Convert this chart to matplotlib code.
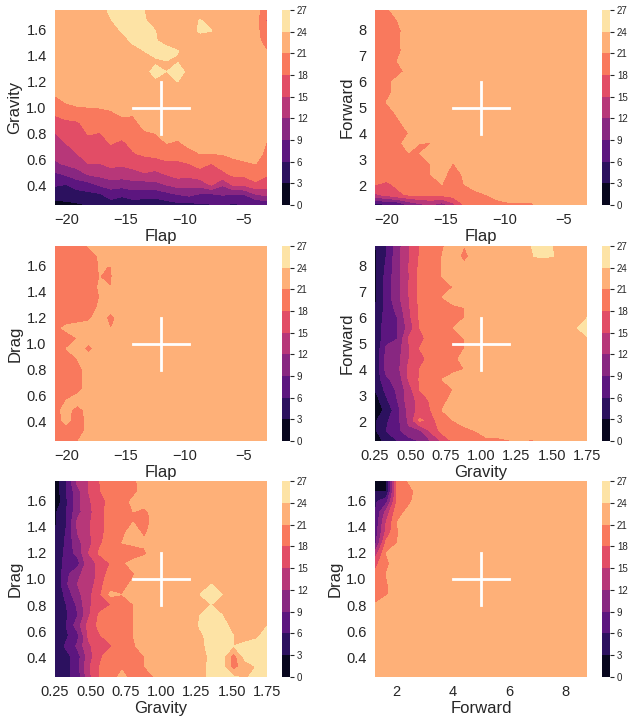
import numpy as np
from matplotlib import pyplot as plt

plt.rcParams["font.family"] = ["Liberation Sans", "DejaVu Sans"]
plt.rcParams["text.color"] = "#262626"
plt.rcParams["axes.labelcolor"] = "#262626"
plt.rcParams["xtick.color"] = "#262626"
plt.rcParams["ytick.color"] = "#262626"

N = 20
BG = 22.5


def row(*vals):
    # most of every row sits on the plateau, only the left part is written out
    return list(vals) + [BG] * (N - len(vals))


flap = np.linspace(-21, -3, N)
gravity = np.linspace(0.25, 1.75, N)
forward = np.linspace(1.25, 8.75, N)
drag = np.linspace(0.25, 1.75, N)

levels = list(range(0, 30, 3))

# rows run from the lowest y value to the highest
flap_gravity = [
    [2.0, 2.3, 2.6, 3.1, 3.5, 4.5, 4.0, 4.3, 4.3, 4.2, 4.5, 5.0, 5.0, 5.5, 5.8, 6.1, 5.5, 6.1, 6.1, 6.2],
    [4.2, 4.2, 4.6, 5.1, 5.5, 7.3, 6.5, 7.4, 7.1, 6.9, 7.9, 8.9, 9.6, 8.5, 8.3, 9.2, 8.5, 8.9, 11.8, 12.5],
    [6.4, 6.0, 7.5, 7.9, 9.5, 10.4, 10.2, 10.7, 10.6, 11.1, 12.2, 13.4, 13.0, 13.3, 15.4, 12.4, 15.6, 15.7, 17.4, 16.6],
    [8.4, 9.4, 10.7, 12.3, 12.9, 13.7, 13.5, 13.9, 14.7, 14.0, 15.2, 16.0, 15.9, 16.7, 16.6, 17.2, 18.6, 18.8, 19.5, 18.3],
    [11.5, 12.4, 13.1, 15.0, 14.9, 15.7, 15.4, 16.0, 16.7, 16.8, 17.4, 17.5, 17.9, 19.0, 17.8, 19.3, 20.0, 20.6, 21.0, 19.2],
    [12.9, 13.2, 15.0, 16.2, 15.9, 17.0, 16.5, 17.8, 18.4, 18.7, 19.3, 19.1, 19.9, 21.0, 21.0, 21.1, 21.8, 22.0, 22.5, 19.9],
    [13.9, 15.0, 15.5, 17.1, 16.9, 18.1, 17.5, 18.7, 19.5, 19.9, 21.0, 20.5, 21.8, 22.0, 22.5, 22.5, 22.5, 22.5, 22.5, 20.8],
    [14.9, 16.3, 16.7, 18.2, 17.9, 19.0, 18.8, 19.5, 20.7, 21.0, 22.0, 22.0, 22.5, 22.5, 22.5, 22.5, 22.5, 22.5, 22.5, 22.0],
    row(16.7, 17.4, 17.6, 19.3, 19.2, 19.8, 20.2, 20.3, 21.8),
    row(18.5, 19.3, 19.9, 20.2, 20.6, 20.7, 21.5, 21.3),
    row(20.0, 21.1, 21.7, 21.7, 21.5, 22.0),
    row(21.5, 22.0),
    row(22.5, 22.5, 22.5, 22.5, 22.5, 22.5, 22.5, 22.5, 22.5, 23.5, 23.2, 24.0),
    row(22.5, 22.5, 22.5, 22.5, 22.5, 22.5, 22.5, 22.5, 23.0, 25.0, 23.95, 25.5, 23.0),
    row(22.5, 22.5, 22.5, 22.5, 22.5, 22.5, 22.5, 22.5, 23.0, 23.5, 23.97, 23.8),
    [22.5, 22.5, 22.5, 22.5, 22.5, 22.5, 22.5, 23.0, 24.0, 25.0, 25.0, 24.1, 22.5, 22.5, 22.5, 22.5, 22.5, 22.5, 22.0, 21.0],
    [22.5, 22.5, 22.5, 22.5, 22.5, 22.5, 23.0, 24.5, 25.0, 24.2, 23.0, 22.5, 22.5, 22.5, 22.5, 22.5, 22.5, 22.5, 22.0, 19.5],
    [22.5, 22.5, 22.5, 22.5, 22.5, 23.0, 24.2, 25.0, 25.0, 24.0, 22.5, 22.5, 22.5, 24.5, 24.1, 22.5, 22.5, 22.5, 22.0, 18.5],
    [22.5, 22.5, 22.5, 22.5, 22.5, 23.9, 25.0, 25.0, 24.2, 23.0, 22.5, 22.5, 22.5, 24.2, 22.5, 22.5, 22.5, 22.5, 22.0, 17.5],
    [22.5, 22.5, 22.5, 22.5, 23.0, 24.5, 25.0, 25.0, 24.0, 22.5, 22.5, 22.5, 22.5, 22.5, 22.5, 22.5, 22.5, 22.5, 22.0, 19.0],
]

flap_forward = [
    [4.0, 5.5, 5.5, 9.0, 11.0, 12.0, 10.0, 14.0, 18.0, 19.3, 19.5, 20.0, 20.5, 20.5, 20.5, 22.0, 22.5, 22.5, 22.5, 20.9],
    row(14.5, 15.8, 17.4, 18.3, 18.4, 18.5, 18.8, 19.3, 20.0, 20.3, 21.0, 22.0),
    row(18.1, 17.4, 18.5, 19.5, 19.5, 19.5, 21.0, 19.5, 21.0, 22.0),
    row(19.5, 19.5, 19.5, 19.5, 19.5, 21.0, 22.0, 19.5, 21.5),
    row(19.5, 19.5, 19.5, 19.5, 19.5, 21.0, 22.3, 20.8),
    row(19.5, 19.5, 19.5, 20.9, 21.0),
    row(19.5, 19.5, 20.3, 22.0, 21.0, 20.9),
    row(19.5, 19.5, 19.5, 21.0, 22.5, 22.0),
    row(19.5, 19.5, 20.2),
    row(19.5, 19.5, 21.5),
    row(19.5, 21.0),
    row(19.5, 20.0, 22.0),
    row(19.5, 20.0, 22.0),
    row(19.5, 19.5, 20.0, 21.8),
    row(19.5, 19.5, 21.0),
    row(19.5, 19.5, 20.2),
    row(19.5, 19.5, 20.5),
    row(19.5, 19.5, 20.2),
    row(19.5, 19.5, 21.0),
    row(19.5, 20.5, 22.0),
]

flap_drag = [
    row(19.5, 19.5, 20.9, 22.5, 22.5, 22.5, 20.7),
    row(19.5, 19.8, 19.5, 21.8),
    row(19.5, 21.9, 19.5, 21.8),
    row(20.0, 22.0, 19.8, 22.0),
    row(19.5, 21.0, 22.3),
    row(19.5, 19.5, 20.0, 22.3),
    row(19.5, 19.5, 20.0, 22.3),
    row(19.5, 19.5, 20.0, 22.3),
    row(19.5, 19.5, 21.0),
    row(19.5, 21.0, 22.5, 20.0),
    row(19.5, 19.5, 21.0),
    row(20.0, 21.7, 22.5, 22.5, 22.5, 20.9),
    row(19.5, 19.5, 19.5, 20.3, 22.5, 20.0),
    row(19.5, 19.5, 19.5, 19.5, 21.5, 22.0),
    row(19.5, 19.5, 19.5, 19.5, 21.0),
    row(19.5, 19.5, 19.5, 19.5, 21.3, 21.0),
    row(19.5, 19.5, 19.5, 19.5, 21.0, 20.8),
    row(19.5, 19.5, 19.5, 19.5, 21.2, 20.9),
    row(19.5, 19.5, 19.5, 19.5, 21.3),
    row(19.5, 19.5, 19.5, 21.1),
]

gravity_forward = [
    row(2.0, 3.5, 6.0, 7.5, 9.0, 12.0, 15.5, 18.5, 20.0, 20.3, 20.2, 20.3, 20.8, 21.8, 20.5),
    row(2.5, 6.0, 7.8, 11.5, 11.5, 15.5, 19.0, 19.5, 20.3, 21.0),
    row(2.5, 5.5, 8.0, 12.5, 18.5, 17.0, 19.5, 21.0, 22.0),
    row(1.0, 3.8, 7.8, 13.0, 16.0, 18.0, 21.0),
    row(1.5, 5.5, 9.0, 13.5, 16.0, 18.5, 20.0, 22.0),
    row(3.0, 6.8, 9.5, 13.5, 18.0, 19.2, 20.0, 21.0),
    row(3.5, 8.5, 10.0, 15.2, 18.2, 19.5, 21.0),
    row(3.5, 9.8, 11.0, 15.5, 18.0, 19.5, 19.5, 20.0, 21.0),
    row(3.2, 9.8, 10.8, 14.9, 16.5, 19.5, 19.5, 20.2, 22.0),
    row(3.2, 9.5, 10.5, 14.5, 18.0, 19.5, 19.5, 20.0, 21.0),
    [3.5, 7.8, 8.9, 15.2, 16.8, 19.5, 19.5, 20.2, 21.0, 22.5, 22.5, 22.5, 22.5, 22.5, 22.5, 22.5, 22.5, 22.5, 22.5, 23.8],
    [3.5, 7.7, 9.0, 13.0, 18.0, 19.5, 19.5, 21.0, 22.5, 22.5, 22.5, 22.5, 22.5, 22.5, 22.5, 22.5, 22.5, 22.5, 23.8, 25.0],
    [3.0, 7.5, 9.0, 14.0, 18.3, 19.5, 19.5, 19.8, 21.0, 22.5, 22.5, 22.5, 22.5, 22.5, 22.5, 22.5, 22.5, 22.5, 22.5, 24.0],
    row(2.7, 7.0, 10.0, 14.5, 18.5, 19.5, 19.5, 20.4, 21.0),
    row(2.5, 7.2, 11.1, 14.8, 18.7, 19.5, 21.0),
    row(2.5, 7.0, 11.0, 15.0, 18.8, 19.5, 19.5, 21.0),
    row(2.5, 6.9, 11.0, 14.7, 18.8, 19.5, 21.0),
    row(2.5, 6.5, 10.9, 15.0, 18.5, 19.5, 21.0, 22.5, 21.8),
    row(2.5, 6.0, 10.9, 14.5, 18.2, 19.5, 21.0, 22.5, 20.0, 22.5, 22.5, 22.5, 22.5, 22.5, 23.9, 24.3, 24.0),
    row(2.8, 6.0, 10.7, 14.6, 18.2, 19.2, 20.6, 22.5, 21.0, 22.5, 22.5, 22.5, 22.5, 22.5, 24.0, 25.0, 23.9),
]

gravity_drag = [
    [3.0, 5.3, 7.0, 14.0, 18.0, 19.5, 22.0, 19.5, 19.8, 21.2, 22.5, 22.5, 22.5, 22.5, 25.0, 25.0, 24.5, 23.5, 25.0, 25.0],
    [3.0, 5.0, 7.8, 14.5, 18.0, 19.5, 20.5, 19.5, 20.9, 22.5, 22.5, 22.5, 22.5, 22.5, 25.0, 25.0, 19.5, 22.5, 24.0, 25.0],
    [3.0, 5.0, 7.5, 13.5, 17.5, 19.5, 19.5, 19.5, 21.0, 22.5, 22.5, 22.5, 22.5, 22.5, 24.8, 25.0, 19.5, 25.0, 25.0, 25.0],
    [3.2, 6.5, 9.5, 14.5, 16.5, 17.8, 19.0, 20.5, 22.5, 22.5, 22.5, 22.5, 22.5, 23.2, 25.0, 25.0, 24.0, 24.3, 25.0, 25.0],
    [3.3, 5.5, 8.0, 15.5, 17.8, 19.0, 18.5, 21.0, 22.5, 22.5, 22.5, 22.5, 22.5, 23.5, 25.0, 25.0, 24.0, 23.5, 23.5, 25.0],
    [3.1, 6.0, 10.5, 16.0, 18.8, 19.5, 19.5, 21.0, 22.5, 22.5, 22.5, 22.5, 22.5, 24.3, 25.0, 25.0, 23.0, 22.5, 22.5, 23.9],
    row(3.0, 5.5, 8.8, 14.5, 18.5, 19.0, 19.5, 21.0, 22.5, 22.5, 22.5, 22.5, 22.5, 24.0, 25.0, 24.0),
    row(2.8, 6.0, 9.5, 14.5, 16.5, 18.0, 19.5, 20.9, 22.5, 22.5, 22.5, 22.5, 22.5, 22.5, 24.0),
    row(2.7, 7.0, 11.0, 14.0, 17.5, 21.8, 21.0, 22.2, 22.5, 22.5, 22.5, 22.5, 22.5, 24.0, 25.0, 24.0),
    row(3.0, 8.5, 12.0, 12.5, 17.5, 19.0, 20.1, 21.5, 22.5, 22.5, 22.5, 22.5, 22.5, 22.5, 24.0),
    row(3.0, 8.0, 11.5, 13.0, 16.0, 19.5, 19.5, 20.7),
    row(3.0, 7.5, 7.5, 14.0, 15.5, 18.2, 20.5, 22.0),
    row(3.0, 7.0, 10.0, 15.0, 18.5, 19.5, 19.5, 19.5, 20.5),
    row(3.0, 6.5, 11.0, 14.0, 17.5, 19.5, 21.0, 21.5, 21.5),
    row(2.8, 6.3, 12.0, 14.5, 17.0, 19.5, 20.5, 22.0, 20.5),
    row(2.7, 5.7, 12.5, 14.5, 17.0, 19.5, 19.5, 21.0, 19.5),
    row(2.5, 5.7, 11.0, 14.0, 17.0, 19.5, 19.5, 21.0, 20.0),
    row(0.5, 5.5, 11.0, 14.5, 16.8, 19.0, 20.0, 21.5),
    row(1.0, 5.8, 11.0, 15.0, 17.8, 19.5, 19.5, 20.3, 22.0),
    row(1.2, 6.0, 12.8, 15.0, 18.0, 19.5, 19.5, 20.5, 22.0),
]

forward_drag = [
    row(),
    row(),
    row(),
    row(),
    row(),
    row(),
    row(),
    row(21.2),
    row(19.8, 20.7),
    row(19.5, 20.7),
    row(18.5, 21.0),
    row(17.0, 20.3),
    row(13.0, 21.0),
    row(8.0, 18.8, 21.0),
    row(7.0, 16.0, 20.8),
    row(6.5, 15.0, 21.0),
    row(6.0, 13.0, 20.0, 21.6),
    row(5.5, 8.0, 18.7, 20.5, 22.3),
    row(3.0, 3.0, 18.8, 20.0, 22.0),
    row(2.5, 3.0, 18.5, 21.2),
]

panels = [
    (flap, gravity, flap_gravity, "Flap", "Gravity", 55, 10, 205, -12, 1.0),
    (flap, forward, flap_forward, "Flap", "Forward", 375, 10, 205, -12, 5.0),
    (flap, drag, flap_drag, "Flap", "Drag", 55, 246, 441, -12, 1.0),
    (gravity, forward, gravity_forward, "Gravity", "Forward", 375, 246, 441, 1.0, 5.0),
    (gravity, drag, gravity_drag, "Gravity", "Drag", 55, 481, 677, 1.0, 1.0),
    (forward, drag, forward_drag, "Forward", "Drag", 375, 481, 677, 5.0, 1.0),
]

half_arm = {"Flap": 2.4, "Gravity": 0.2, "Forward": 1.0, "Drag": 0.2}
xticks = {"Flap": [-20, -15, -10, -5], "Gravity": [0.25, 0.5, 0.75, 1.0, 1.25, 1.5, 1.75], "Forward": [2, 4, 6, 8]}
yticks = {"Gravity": [0.4, 0.6, 0.8, 1.0, 1.2, 1.4, 1.6], "Drag": [0.4, 0.6, 0.8, 1.0, 1.2, 1.4, 1.6], "Forward": [2, 3, 4, 5, 6, 7, 8]}

W, H = 630, 717
fig = plt.figure(figsize=(W / 100, H / 100), dpi=100)

for x, y, z, xlabel, ylabel, left, top, bottom, cx, cy in panels:
    ax = fig.add_axes([left / W, 1 - bottom / H, 212 / W, (bottom - top) / H])
    cs = ax.contourf(x, y, np.array(z), levels=levels, cmap="magma", vmin=0, vmax=27)
    ax.plot([cx - half_arm[xlabel], cx + half_arm[xlabel]], [cy, cy], color="white", lw=2)
    ax.plot([cx, cx], [cy - half_arm[ylabel], cy + half_arm[ylabel]], color="white", lw=2)
    ax.set_xlim(x[0], x[-1])
    ax.set_ylim(y[0], y[-1])
    ax.set_xticks(xticks[xlabel])
    ax.set_yticks(yticks[ylabel])
    if xlabel == "Gravity":
        ax.set_xticklabels(["0.25", "0.50", "0.75", "1.00", "1.25", "1.50", "1.75"])
    ax.tick_params(length=0, labelsize=10.5, pad=6)
    ax.set_xlabel(xlabel, fontsize=12, labelpad=1)
    ax.set_ylabel(ylabel, fontsize=12, labelpad=3)
    for spine in ax.spines.values():
        spine.set_visible(False)

    cax = fig.add_axes([(left + 227) / W, 1 - bottom / H, 8 / W, (bottom - top) / H])
    cb = fig.colorbar(cs, cax=cax)
    cb.set_ticks(levels)
    cb.outline.set_visible(False)
    cb.ax.tick_params(length=3, width=0.8, labelsize=7, pad=2)

fig.savefig("out.png", dpi=100)
